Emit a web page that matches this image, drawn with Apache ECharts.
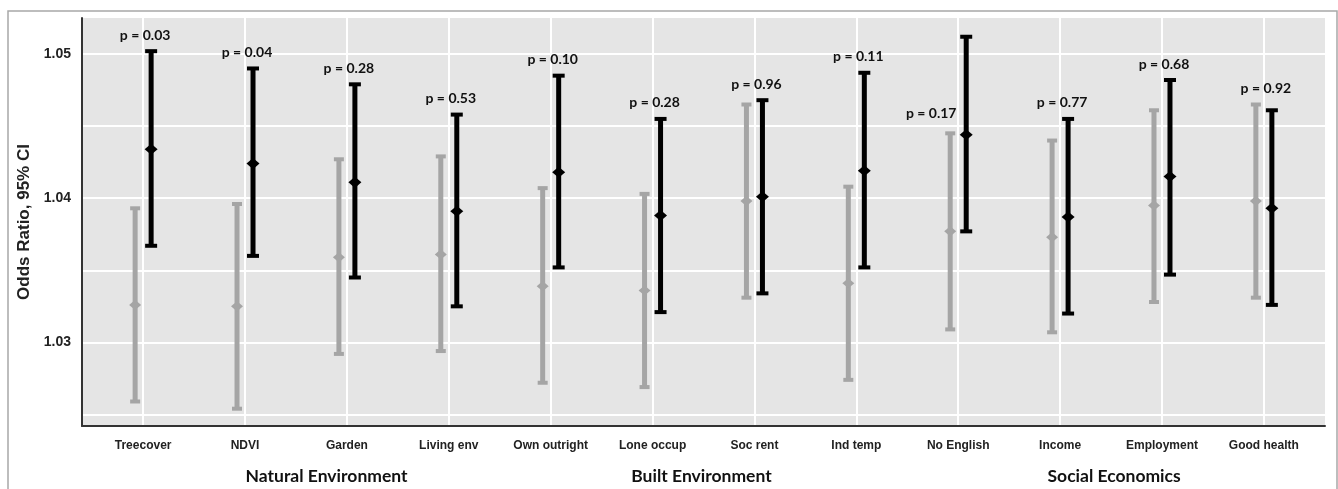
<!DOCTYPE html>
<html>
<head>
<meta charset="utf-8">
<script src="https://cdn.jsdelivr.net/npm/echarts@6/dist/echarts.min.js"></script>
<style>
html,body{margin:0;padding:0;background:#fff;}
#chart{width:1338px;height:489px;}
</style>
</head>
<body>
<div id="chart"></div>
<script>
const categories = ['Treecover','NDVI','Garden','Living env','Own outright','Lone occup','Soc rent','Ind temp','No English','Income','Employment','Good health'];
const grayMean = [1.0326,1.0325,1.0359,1.0361,1.0339,1.0336,1.0398,1.0341,1.0377,1.0373,1.0395,1.0398];
const grayLow  = [1.0259,1.0254,1.0292,1.0294,1.0272,1.0269,1.0331,1.0274,1.0309,1.0307,1.0328,1.0331];
const grayHigh = [1.0393,1.0396,1.0427,1.0429,1.0407,1.0403,1.0465,1.0408,1.0445,1.0440,1.0461,1.0465];
const blackMean = [1.0434,1.0424,1.0411,1.0391,1.0418,1.0388,1.0401,1.0419,1.0444,1.0387,1.0415,1.0393];
const blackLow  = [1.0367,1.0360,1.0345,1.0325,1.0352,1.0321,1.0334,1.0352,1.0377,1.0320,1.0347,1.0326];
const blackHigh = [1.0502,1.0490,1.0479,1.0458,1.0485,1.0455,1.0468,1.0487,1.0512,1.0455,1.0482,1.0461];
const pValues = ['0.03','0.04','0.28','0.53','0.10','0.28','0.96','0.11','0.17','0.77','0.68','0.92'];
const groups = ['Natural Environment','Built Environment','Social Economics'];
const yTickLabels = ['1.03','1.04','1.05'];

const grayData = categories.map((c,i)=>[i, grayMean[i], grayLow[i], grayHigh[i]]);
const blackData = categories.map((c,i)=>[i, blackMean[i], blackLow[i], blackHigh[i]]);
const pData = categories.map((c,i)=>[i, Math.max(grayHigh[i], blackHigh[i]), grayHigh[i]]);

function makeRender(color, dx, lw, capW, dia){
  return function(params, api){
    const x = api.value(0);
    const m = api.coord([x, api.value(1)]);
    const lo = api.coord([x, api.value(2)]);
    const hi = api.coord([x, api.value(3)]);
    const cx = m[0] + dx;
    return {type:'group', children:[
      {type:'line', shape:{x1:cx,y1:hi[1],x2:cx,y2:lo[1]}, style:{stroke:color,lineWidth:lw}},
      {type:'line', shape:{x1:cx-capW/2,y1:hi[1],x2:cx+capW/2,y2:hi[1]}, style:{stroke:color,lineWidth:4}},
      {type:'line', shape:{x1:cx-capW/2,y1:lo[1],x2:cx+capW/2,y2:lo[1]}, style:{stroke:color,lineWidth:4}},
      {type:'polygon', shape:{points:[[cx,m[1]-dia*0.85],[cx+dia,m[1]],[cx,m[1]+dia*0.85],[cx-dia,m[1]]]}, style:{fill:color}}
    ]};
  };
}

const chart = echarts.init(document.getElementById('chart'));
const option = {
  animation:false,
  backgroundColor:'#fff',
  grid:{left:82, top:18, right:13, bottom:63, show:true, backgroundColor:'#e5e5e5', borderWidth:0},
  xAxis:{
    type:'value', min:-0.6, max:11.6, minInterval:1, maxInterval:1,
    axisLine:{show:true, onZero:false, lineStyle:{color:'#333', width:2}},
    axisTick:{show:false},
    splitLine:{show:true, showMinLine:false, showMaxLine:false, lineStyle:{color:'#fff', width:2}},
    axisLabel:{
      margin:14, color:'#222', fontFamily:'Liberation Sans, Arial', fontWeight:'bold', fontSize:12,
      showMinLabel:false, showMaxLabel:false,
      formatter:function(v){ const r=Math.round(v); return Math.abs(v-r)<1e-6 && categories[r] ? categories[r] : ''; }
    }
  },
  yAxis:{
    type:'value', min:1.0242, max:1.0525, minInterval:0.005, maxInterval:0.005,
    name:'Odds Ratio, 95% CI', nameLocation:'middle', nameGap:49, nameRotate:90,
    nameTextStyle:{color:'#222', fontFamily:'Liberation Sans, Arial', fontWeight:'bold', fontSize:17},
    axisLine:{show:true, onZero:false, lineStyle:{color:'#333', width:2}},
    axisTick:{show:false},
    splitLine:{show:true, showMinLine:false, showMaxLine:false, lineStyle:{color:'#fff', width:2}},
    axisLabel:{
      margin:11, color:'#222', fontFamily:'Liberation Sans, Arial', fontWeight:'bold', fontSize:14,
      showMinLabel:false, showMaxLabel:false,
      formatter:function(v){ const s=v.toFixed(2); return (Math.abs(v*100-Math.round(v*100))<1e-6 && yTickLabels.indexOf(s)>=0) ? s : ''; }
    }
  },
  series:[
    {type:'custom', renderItem:makeRender('#a5a5a5', -8, 5, 10, 6), data:grayData, encode:{x:0, y:[1,2,3]}, z:2},
    {type:'custom', renderItem:makeRender('#000000', 8, 5, 12, 6.5), data:blackData, encode:{x:0, y:[1,2,3]}, z:3},
    {type:'custom', data:pData, encode:{x:0, y:[1,2]}, z:4,
      renderItem:function(params, api){
        const i = api.value(0);
        const special = categories[i] === 'No English';
        const p = special ? api.coord([i, api.value(2)]) : api.coord([i, api.value(1)]);
        const x = special ? p[0]-27 : p[0]+2;
        const y = special ? p[1]-20 : p[1]-16;
        return {type:'text', x:x, y:y, style:{text:'p = '+pValues[i], textAlign:'center', textVerticalAlign:'middle',
          fill:'#111', font:'bold 14px Lato, "Open Sans", sans-serif'}};
      }
    }
  ],
  graphic:[
    {type:'rect', shape:{x:8, y:11, width:1329, height:500}, style:{fill:'none', stroke:'#a8a8a8', lineWidth:1.5}, silent:true, z:-10}
  ]
};
chart.setOption(option);

const groupCenters = [1.8, 5.48, 9.53];
chart.setOption({graphic: option.graphic.concat(groups.map((g,k)=>{
  const px = chart.convertToPixel({xAxisIndex:0}, groupCenters[k]);
  return {type:'text', x:px, y:476, style:{text:g, textAlign:'center', textVerticalAlign:'middle', fill:'#111',
    font:'bold 17.5px Lato, "Open Sans", sans-serif'}};
}))});
</script>
</body>
</html>
